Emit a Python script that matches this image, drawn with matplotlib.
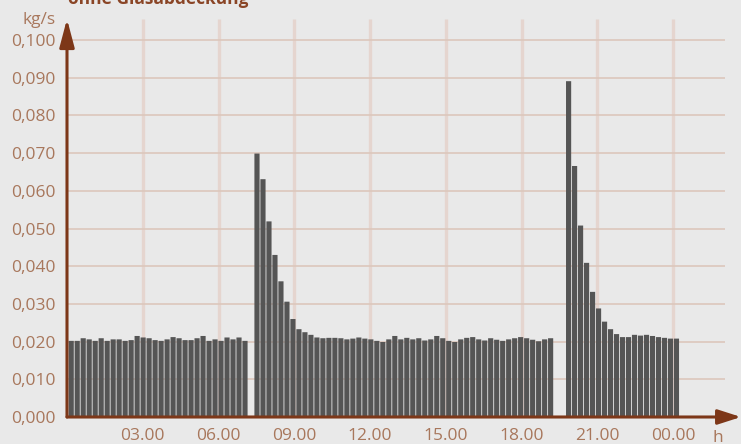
import numpy as np
import matplotlib
matplotlib.use("Agg")
import matplotlib.pyplot as plt

plt.rcParams['font.family'] = ['Open Sans', 'DejaVu Sans']

# mass flow per interval, kg/s (gaps = no value)
night_morning = [0.0202, 0.0202, 0.0209, 0.0206, 0.0202, 0.0209, 0.0202, 0.0206, 0.0206, 0.0202,
                 0.0204, 0.0215, 0.0211, 0.0209, 0.0204, 0.0202, 0.0206, 0.0212, 0.0209, 0.0204,
                 0.0204, 0.0209, 0.0215, 0.0202, 0.0206, 0.0202, 0.0211, 0.0206, 0.0211, 0.0202]
day = [0.0699, 0.0631, 0.0519, 0.0430, 0.0360, 0.0306, 0.0260, 0.0233, 0.0225, 0.0218,
       0.0211, 0.0209, 0.0210, 0.0210, 0.0209, 0.0206, 0.0208, 0.0211, 0.0208, 0.0206,
       0.0202, 0.0199, 0.0206, 0.0215, 0.0206, 0.0210, 0.0206, 0.0209, 0.0203, 0.0206,
       0.0215, 0.0209, 0.0202, 0.0199, 0.0206, 0.0210, 0.0212, 0.0206, 0.0203, 0.0209,
       0.0205, 0.0202, 0.0206, 0.0209, 0.0212, 0.0209, 0.0205, 0.0201, 0.0206, 0.0209]
evening = [0.0891, 0.0666, 0.0508, 0.0409, 0.0332, 0.0288, 0.0253, 0.0233, 0.0220, 0.0212,
           0.0212, 0.0218, 0.0216, 0.0218, 0.0215, 0.0212, 0.0210, 0.0208, 0.0208]

flow = night_morning + [np.nan] + day + [np.nan, np.nan] + evening

x_ticks = [3, 6, 9, 12, 15, 18, 21, 24]
x_labels = ['03.00', '06.00', '09.00', '12.00', '15.00', '18.00', '21.00', '00.00']
y_ticks = [0.00, 0.01, 0.02, 0.03, 0.04, 0.05, 0.06, 0.07, 0.08, 0.09, 0.10]
y_labels = ['0,000', '0,010', '0,020', '0,030', '0,040', '0,050',
            '0,060', '0,070', '0,080', '0,090', '0,100']

BG = '#e9e9e9'
BROWN = '#7d3718'
TAN = '#a8775c'

# bar spacing in hours
pitch = 0.2373
start = 0.167
xpos = start + pitch * np.arange(len(flow))
vals = np.array(flow)

fig = plt.figure(figsize=(7.41, 4.44), dpi=100, facecolor=BG)
ax = fig.add_axes([67 / 741, 27 / 444, 674 / 741, 398 / 444], facecolor=BG)
ax.set_xlim(0, 26.69)
ax.set_ylim(0, 0.1056)

# grid
ax.hlines(y_ticks[1:], 0, 26.06, color='#dcc7bc', lw=1.2, zorder=1)
ax.vlines(x_ticks, 0, 0.1056, color='#e5d5cf', lw=2.4, zorder=0.9)

mask = ~np.isnan(vals)
bars = ax.bar(xpos[mask], vals[mask], width=pitch * 0.86, color='#555555', zorder=2)
for b in bars:
    b.set_snap(False)

for s in ax.spines.values():
    s.set_visible(False)

ax.set_xticks(x_ticks)
ax.set_xticklabels(x_labels)
ax.set_yticks(y_ticks)
ax.set_yticklabels(y_labels)
ax.tick_params(length=0, colors=TAN, labelsize=12.5)
ax.tick_params(axis='y', pad=8)
ax.tick_params(axis='x', pad=8)

# axis arrows
arrow = dict(arrowstyle='-|>,head_length=1.7,head_width=0.45', mutation_scale=10,
             lw=2.2, color=BROWN, shrinkA=0, shrinkB=0)
ax.annotate('', xy=(0, 1.0), xytext=(0, 0), xycoords='axes fraction', arrowprops=arrow,
            annotation_clip=False, zorder=5)
ax.annotate('', xy=(1.0, 0), xytext=(0, 0), xycoords='axes fraction',
            arrowprops=dict(arrow, arrowstyle='-|>,head_length=1.4,head_width=0.45'),
            annotation_clip=False, zorder=5)

fig.text(56 / 741, 1 - 20 / 444, 'kg/s', color=TAN, fontsize=12.5, ha='right', va='center')
fig.text(718 / 741, 1 - 438 / 444, 'h', color=TAN, fontsize=12.5, ha='center', va='center')
fig.text(68 / 741, 1 - 4 / 444, 'ohne Glasabdeckung', color='#8a4526', fontsize=12.5,
         fontweight='bold', ha='left', va='baseline')

fig.savefig('out.png', dpi=100, facecolor=BG)
